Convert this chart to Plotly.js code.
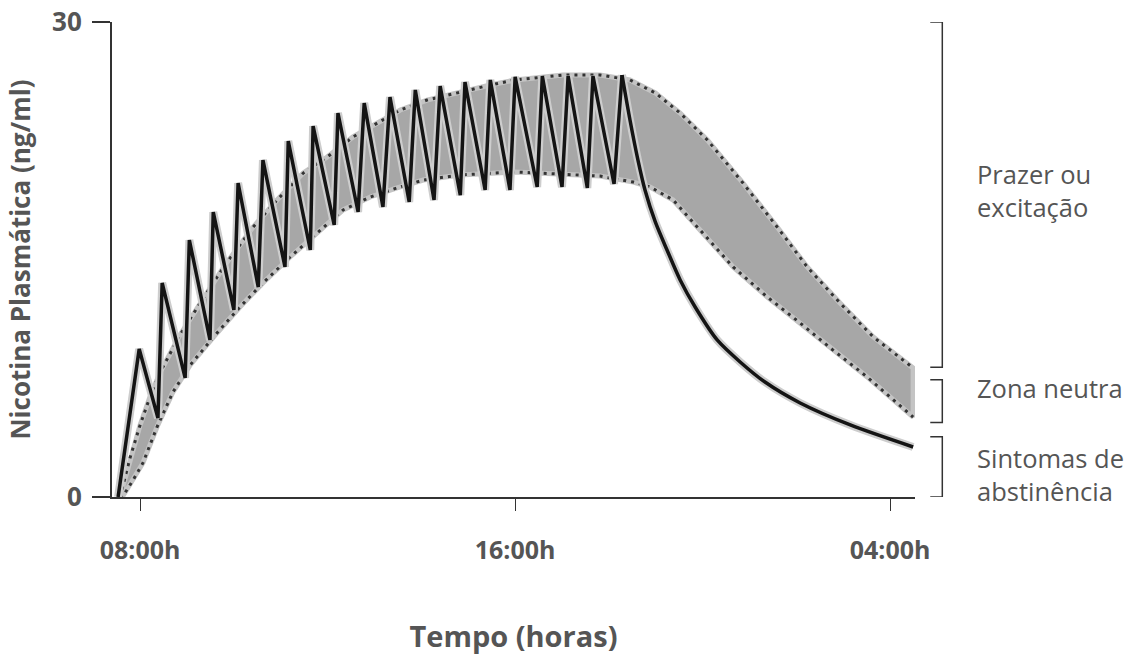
<!DOCTYPE html>
<html>
<head>
<meta charset="utf-8">
<script src="https://cdn.plot.ly/plotly-3.0.1.min.js"></script>
<style>html,body{margin:0;padding:0;background:#fff;}#chart{width:1144px;height:655px;}</style>
</head>
<body>
<div id="chart"></div>
<script>
// x: hours after 08:00 on the drawn (schematic) time axis; y: plasma nicotine (ng/ml)
const tickVals = [0, 8, 16];
const tickText = ["08:00h", "16:00h", "04:00h"];

// Upper edge of the grey band
const upperX = [-0.43, -0.32, -0.21, 0.0, 0.21, 0.43, 0.85, 1.28, 1.81, 2.41, 2.92, 3.48, 3.99, 4.54, 5.06, 5.55, 6.12, 6.83, 7.47, 8.0, 9.02, 9.81, 10.45, 10.99, 11.52, 12.10, 12.86, 13.59, 14.23, 14.93, 15.64, 16.49];
const upperY = [0, 1.2, 2.53, 4.55, 6.32, 7.89, 10.23, 12.25, 14.65, 17.05, 18.76, 20.46, 21.47, 22.74, 23.62, 24.44, 25.07, 25.58, 26.02, 26.34, 26.65, 26.65, 26.34, 25.52, 24.25, 22.55, 19.83, 17.05, 14.53, 12.25, 10.11, 8.15];

// Lower edge of the grey band
const lowerX = [-0.43, -0.38, -0.15, 0.06, 0.36, 0.70, 1.07, 1.64, 2.13, 2.62, 3.20, 3.73, 4.33, 4.91, 5.48, 6.04, 6.83, 8.0, 9.02, 9.81, 10.52, 10.88, 11.37, 11.95, 12.65, 13.38, 14.08, 14.78, 15.51, 16.49];
const lowerY = [0, 0, 1.07, 2.15, 4.42, 6.63, 8.34, 10.36, 12.0, 13.52, 15.16, 16.55, 18.13, 18.95, 19.52, 20.02, 20.34, 20.53, 20.4, 20.27, 19.89, 19.58, 18.76, 16.86, 14.53, 12.63, 10.99, 9.28, 7.58, 5.05];

// Smoker's curve during the day: one spike per cigarette
const smokerX = [-0.47, -0.02, 0.38, 0.47, 0.96, 1.05, 1.49, 1.56, 2.0, 2.09, 2.52, 2.62, 3.09, 3.16, 3.63, 3.69, 4.14, 4.22, 4.65, 4.78, 5.18, 5.33, 5.74, 5.87, 6.27, 6.40, 6.83, 6.93, 7.36, 7.47, 7.89, 8.0, 8.47, 8.58, 9.0, 9.13, 9.54, 9.66, 10.11, 10.28];
const smokerY = [0, 9.35, 4.99, 13.52, 7.52, 16.23, 9.92, 18.0, 11.81, 19.83, 13.26, 21.28, 14.53, 22.48, 15.6, 23.43, 17.18, 24.25, 18.0, 24.88, 18.32, 25.26, 18.63, 25.71, 18.76, 25.96, 19.07, 26.21, 19.39, 26.34, 19.39, 26.53, 19.58, 26.59, 19.58, 26.59, 19.52, 26.59, 19.77, 26.65];

// Fall after the last cigarette
const fallX = [10.28, 10.45, 10.62, 10.77, 10.99, 11.24, 11.52, 11.84, 12.31, 12.80, 13.33, 14.08, 15.15, 16.49];
const fallY = [26.65, 23.81, 21.28, 19.39, 17.37, 15.6, 13.71, 12.0, 9.92, 8.53, 7.26, 5.94, 4.55, 3.16];

// Effect zones (bracket ranges on the right)
const zoneLabels = ["Prazer ou<br>excitação", "Zona neutra", "Sintomas de<br>abstinência"];
const zoneLow = [8.2, 4.7, 0];
const zoneHigh = [30, 7.4, 3.8];

const textColor = "#555555";
const font = "'Open Sans', 'Noto Sans', sans-serif";

const bandX = upperX.concat(lowerX.slice().reverse());
const bandY = upperY.concat(lowerY.slice().reverse());

const traces = [
  {x: bandX, y: bandY, type: "scatter", mode: "lines", fill: "toself",
   fillcolor: "#a7a7a7", line: {color: "#c4c4c4", width: 5}, hoverinfo: "skip", showlegend: false},
  {x: upperX, y: upperY, type: "scatter", mode: "lines",
   line: {color: "#333", width: 3, dash: "3px,5px"}, showlegend: false},
  {x: lowerX, y: lowerY, type: "scatter", mode: "lines",
   line: {color: "#333", width: 3, dash: "3px,5px"}, showlegend: false},
  {x: smokerX, y: smokerY, type: "scatter", mode: "lines",
   line: {color: "#cdcdcd", width: 8}, hoverinfo: "skip", showlegend: false},
  {x: fallX, y: fallY, type: "scatter", mode: "lines",
   line: {color: "#cdcdcd", width: 8, shape: "spline", smoothing: 0.8}, hoverinfo: "skip", showlegend: false},
  {x: smokerX, y: smokerY, type: "scatter", mode: "lines",
   line: {color: "#141414", width: 3.5}, showlegend: false},
  {x: fallX, y: fallY, type: "scatter", mode: "lines",
   line: {color: "#141414", width: 3.5, shape: "spline", smoothing: 0.8}, showlegend: false}
];

const shapes = [];
for (let i = 0; i < zoneLabels.length; i++) {
  shapes.push({type: "path", xref: "paper", yref: "y",
    path: `M 1.019,${zoneHigh[i]} L 1.034,${zoneHigh[i]} L 1.034,${zoneLow[i]} L 1.019,${zoneLow[i]}`,
    line: {color: "#333", width: 1.5}});
}
const labelY = [19.35, 6.9, 1.45];
const annotations = zoneLabels.map((t, i) => ({
  xref: "paper", yref: "y", x: 1.075, y: labelY[i], xanchor: "left", yanchor: "middle",
  text: t, showarrow: false, align: "left",
  font: {family: font, size: 25.5, color: textColor}
}));

const layout = {
  width: 1144, height: 655,
  margin: {l: 112, r: 229, t: 22, b: 158},
  paper_bgcolor: "#fff", plot_bgcolor: "#fff",
  showlegend: false,
  font: {family: font, color: textColor},
  xaxis: {
    range: [-0.6, 16.53], showgrid: false, zeroline: false,
    showline: true, linecolor: "#333", linewidth: 2,
    tickmode: "array", tickvals: tickVals, ticktext: tickText,
    ticks: "outside", ticklen: 12, tickwidth: 1.2, tickcolor: "#333",
    ticklabelstandoff: 18,
    tickfont: {family: font, size: 25, color: textColor, weight: "bold"},
    title: {text: "Tempo (horas)", standoff: 62, font: {family: font, size: 29, color: textColor, weight: "bold"}}
  },
  yaxis: {
    range: [0, 30], showgrid: false, zeroline: false,
    showline: true, linecolor: "#333", linewidth: 2,
    tickmode: "array", tickvals: [0, 30], ticktext: ["0", "30"],
    ticks: "outside", ticklen: 18, tickwidth: 1.5, tickcolor: "#333",
    ticklabelstandoff: 5,
    tickfont: {family: font, size: 26, color: textColor, weight: "bold"},
    title: {text: "Nicotina Plasmática (ng/ml)", standoff: 14, font: {family: font, size: 26, color: textColor, weight: "bold"}}
  },
  shapes: shapes,
  annotations: annotations
};

Plotly.newPlot("chart", traces, layout, {displayModeBar: false, staticPlot: true});
</script>
</body>
</html>
